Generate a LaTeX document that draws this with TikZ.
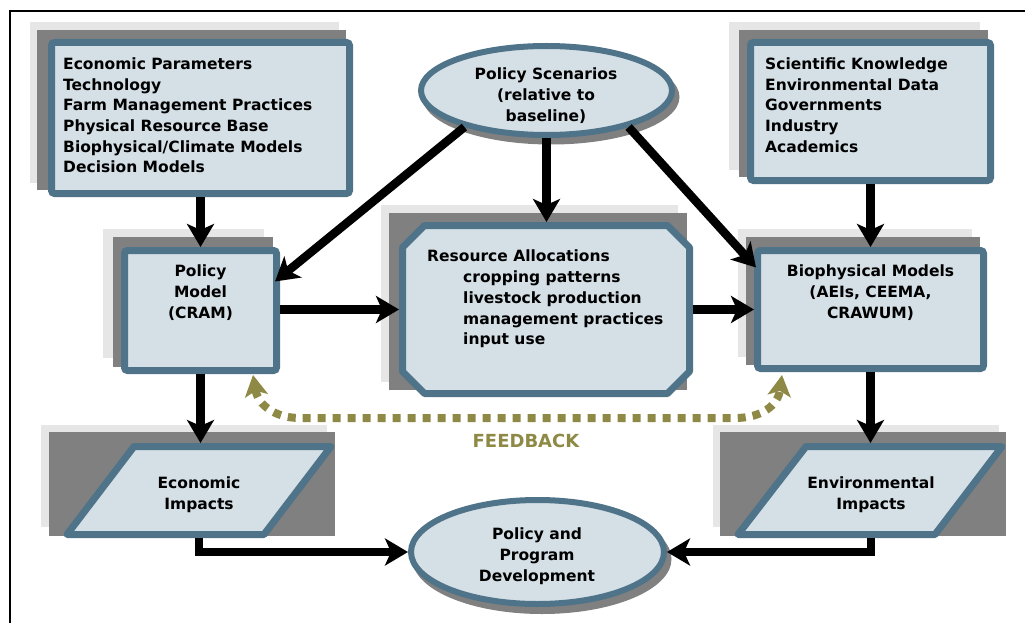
\documentclass[tikz,border=0pt]{standalone}
\usepackage{fontspec}
\setmainfont{DejaVu Sans}
\usetikzlibrary{arrows.meta,calc,shapes.geometric}
\definecolor{bordc}{RGB}{79,115,137}
\definecolor{fillc}{RGB}{212,223,230}
\definecolor{lgray}{RGB}{230,230,230}
\definecolor{dgray}{RGB}{128,128,128}
\definecolor{fbcol}{RGB}{142,138,70}
\begin{document}
\begin{tikzpicture}[x=1pt,y=-1pt,
  box/.style={draw=bordc, fill=fillc, line width=7pt, rounded corners=3pt, inner sep=0pt},
  ell/.style={ellipse, draw=bordc, fill=fillc, line width=6pt, inner sep=0pt},
  ellshadow/.style={fill=dgray},
  hidden/.style={draw=none, inner sep=0pt, outer sep=0pt},
  txt/.style={font=\bfseries\fontsize{15.5}{20.7}\selectfont, inner sep=0pt, text=black},
  arr/.style={line width=8.5pt, -{Stealth[length=23pt,width=27pt,inset=6pt]}},
  fb/.style={draw=fbcol, line width=8pt, dash pattern=on 8pt off 7pt,
    {Stealth[length=21pt,width=23pt,inset=5pt]}-{Stealth[length=21pt,width=23pt,inset=5pt]}}
]
\useasboundingbox (0,0) rectangle (1025,623);
% frame
\draw[line width=2pt] (10,630) -- (10,11) -- (1030,11);

% shadows
\fill[lgray] (30,22) rectangle (339,183);
\fill[dgray] (37,30) rectangle (346,190);
\fill[lgray] (729,22) rectangle (980,170);
\fill[dgray] (739,30) rectangle (988,177);
\fill[lgray] (103,229) rectangle (264,358);
\fill[dgray] (113,237) rectangle (273,367);
\fill[lgray] (381,205) rectangle (678,382);
\fill[dgray] (389,213) rectangle (687,390);
\fill[lgray] (738,229) rectangle (972,357);
\fill[dgray] (746,237) rectangle (980,365);
\fill[lgray] (41,425) rectangle (327,527);
\fill[dgray] (49,432) rectangle (335,536);
\fill[lgray] (713,425) rectangle (999,527);
\fill[dgray] (720,432) rectangle (1006,536);
\fill[ellshadow] (551,97) ellipse [x radius=128.5, y radius=47.5];
\fill[ellshadow] (542,559) ellipse [x radius=129.5, y radius=55];

% boxes
\node[box, minimum width=298pt, minimum height=151pt] (tl) at (200.5,118) {};
\node[box, minimum width=240pt, minimum height=138pt] (tr) at (870.5,111.5) {};
\node[box, minimum width=152pt, minimum height=120pt] (pm) at (200.5,310.5) {};
\node[box, minimum width=226pt, minimum height=118pt] (bm) at (870.5,309.5) {};
\node[ell, minimum width=251pt, minimum height=89pt] (ps) at (546.5,90.5) {};
\node[ell, minimum width=253pt, minimum height=104pt] (ppd) at (537.5,552) {};

% resource allocations (chamfered)
\node[hidden, minimum width=294pt, minimum height=175pt] (ra) at (546,309.5) {};
\draw[draw=bordc, fill=fillc, line width=7pt, line join=round]
  (424.5,225.5) -- (667.5,225.5) -- (689.5,247.5) -- (689.5,371.5) -- (667.5,393.5)
  -- (424.5,393.5) -- (402.5,371.5) -- (402.5,247.5) -- cycle;

% parallelograms
\node[hidden, minimum width=276pt, minimum height=95pt] (ei) at (199,490.5) {};
\draw[draw=bordc, fill=fillc, line width=7pt, line join=round]
  (134,446.5) -- (331,446.5) -- (264,534.5) -- (67,534.5) -- cycle;
\node[hidden, minimum width=275pt, minimum height=95pt] (env) at (870.5,490.5) {};
\draw[draw=bordc, fill=fillc, line width=7pt, line join=round]
  (806,446.5) -- (1002,446.5) -- (935,534.5) -- (738,534.5) -- cycle;
\coordinate (eitop) at (200.5,443);
\coordinate (eibot) at (199,538);
\coordinate (envtop) at (870.5,443);
\coordinate (envbot) at (871,538);

% texts
\node[txt, anchor=north west, align=left] (tltxt) at (63,57.5)
  {Economic Parameters\\Technology\\Farm Management Practices\\Physical Resource Base\\Biophysical/Climate Models\\Decision Models};
\node[txt, anchor=north west, align=left] (trtxt) at (765,57.5)
  {Scientific Knowledge\\Environmental Data\\Governments\\Industry\\Academics};
\node[txt, anchor=north, align=center] (pmtxt) at (200.5,265)
  {Policy\\Model\\(CRAM)};
\node[txt, anchor=north, align=center] (bmtxt) at (870.5,265)
  {Biophysical Models\\(AEIs, CEEMA,\\CRAWUM)};
\node[txt, anchor=north west, align=left] (ratxt) at (427,250)
  {Resource Allocations\\\hspace*{36pt}cropping patterns\\\hspace*{36pt}livestock production\\\hspace*{36pt}management practices\\\hspace*{36pt}input use};
\node[txt, anchor=north, align=center] (pstxt) at (546,68)
  {Policy Scenarios\\(relative to\\baseline)};
\node[txt, anchor=north, align=center] (ppdtxt) at (537,528)
  {Policy and\\Program\\Development};
\node[txt, anchor=north, align=center] (eitxt) at (199,477)
  {Economic\\Impacts};
\node[txt, anchor=north, align=center] (envtxt) at (871,477)
  {Environmental\\Impacts};
\node[font=\bfseries\fontsize{18}{20}\selectfont, text=fbcol, inner sep=0pt] (fbtxt) at (526,440.5) {FEEDBACK};

% connectors
\draw[arr] (tl.south) -- (pm.north);
\draw[arr] (tr.south) -- (bm.north);
\draw[arr] (ps.204) -- ($(pm.east)+(-5,-29)$);
\draw[arr] (ps.south) -- (ps.south |- ra.north);
\draw[arr] (ps.336) -- ($(bm.west)+(2,-42)$);
\draw[arr] (pm.east |- ra.west) -- (ra.west);
\draw[arr] (ra.east) -- (ra.east -| bm.west);
\draw[arr] (pm.south) -- (eitop);
\draw[arr] (bm.south) -- (envtop);
\draw[arr] (eibot) |- (ppd.west);
\draw[arr] (envbot) |- (ppd.east);

% feedback
\coordinate (fbL) at (253,375);
\coordinate (fbR) at (782,375);
\draw[fb] (fbL) .. controls (258,405) and (275,418) .. (300,418) -- (735,418)
  .. controls (762,418) and (778,405) .. (fbR);
\end{tikzpicture}
\end{document}
